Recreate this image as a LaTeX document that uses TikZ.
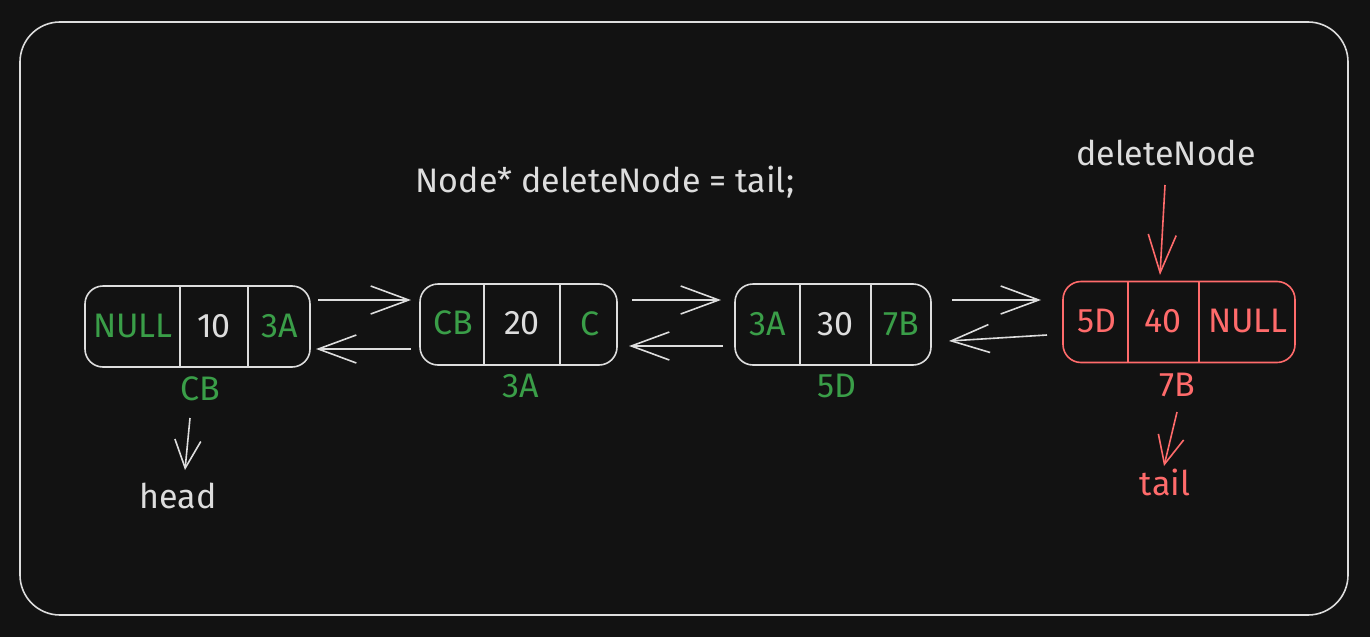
\documentclass[tikz,border=0pt]{standalone}
\usepackage{fontspec}
\setmainfont{Fira Sans}
\usetikzlibrary{arrows.meta,calc}
\definecolor{bg}{HTML}{121212}
\definecolor{ink}{HTML}{DDDDDD}
\definecolor{grn}{HTML}{3A9E48}
\definecolor{rd}{HTML}{FF6B6B}
\tikzset{
  cellbox/.style={draw=ink,line width=0.8pt,rounded corners=9pt,minimum height=40.5pt,inner sep=0pt},
  redbox/.style={cellbox,draw=rd},
  txt/.style={font=\fontsize{17}{20}\selectfont,inner sep=1pt},
  gtxt/.style={txt,text=grn},
  wtxt/.style={txt,text=ink},
  rtxt/.style={txt,text=rd},
  arr/.style={draw=ink,line width=0.8pt,-{Straight Barb[length=19pt,width=14pt,line width=0.8pt]}},
  parr/.style={draw=ink,line width=0.8pt,-{Straight Barb[length=14pt,width=13pt,line width=0.8pt]}},
  rarr/.style={draw=rd,line width=0.8pt,-{Straight Barb[length=19pt,width=14pt,line width=0.8pt]}},
  srarr/.style={parr,draw=rd},
  divider/.style={draw=ink,line width=0.7pt},
  rdivider/.style={draw=rd,line width=0.7pt},
}
\begin{document}
\begin{tikzpicture}[x=0.5pt,y=-0.5pt]
\fill[bg] (0,0) rectangle (1370,637);
\useasboundingbox (0,0) rectangle (1370,637);
\draw[ink,line width=0.8pt,rounded corners=20pt] (20,22) rectangle (1348,615);

% boxes
\node[cellbox,minimum width=112.5pt] (n1) at (197.5,326.5) {};
\node[cellbox,minimum width=98.5pt] (n2) at (518.5,324.5) {};
\node[cellbox,minimum width=98pt] (n3) at (833,324.5) {};
\node[redbox,minimum width=116pt] (n4) at (1179,322) {};

% dividers
\draw[divider] (180,0 |- n1.north) -- (180,0 |- n1.south);
\draw[divider] (248,0 |- n1.north) -- (248,0 |- n1.south);
\draw[divider] (484,0 |- n2.north) -- (484,0 |- n2.south);
\draw[divider] (560,0 |- n2.north) -- (560,0 |- n2.south);
\draw[divider] (800,0 |- n3.north) -- (800,0 |- n3.south);
\draw[divider] (871,0 |- n3.north) -- (871,0 |- n3.south);
\draw[rdivider] (1128,0 |- n4.north) -- (1128,0 |- n4.south);
\draw[rdivider] (1199,0 |- n4.north) -- (1199,0 |- n4.south);

% cell texts
\node[gtxt] (t11) at (133,326) {NULL};
\node[wtxt] (t12) at (214,326) {10};
\node[gtxt] (t13) at (280,326) {3A};
\node[gtxt] (t21) at (453,323) {CB};
\node[wtxt] (t22) at (522,323) {20};
\node[gtxt] (t23) at (590,324) {C};
\node[gtxt] (t31) at (768,324) {3A};
\node[wtxt] (t32) at (835,324) {30};
\node[gtxt] (t33) at (901,324) {7B};
\node[rtxt] (t41) at (1097,321) {5D};
\node[rtxt] (t42) at (1163,321) {40};
\node[rtxt] (t43) at (1248,321) {NULL};

% address labels
\node[gtxt] (l1) at (200,389) {CB};
\node[gtxt] (l2) at (521,386) {3A};
\node[gtxt] (l3) at (837,386) {5D};
\node[rtxt] (l4) at (1177,385) {7B};

% pointer labels
\node[wtxt] (code) at (605,182) {Node* deleteNode = tail;};
\node[wtxt] (dn) at (1166,153) {deleteNode};
\node[wtxt] (head) at (178,496) {head};
\node[rtxt] (tail) at (1165,482) {tail};

% link coordinates
\coordinate (f1s) at (318,300); \coordinate (f1e) at (411,300);
\coordinate (b1s) at (411,349); \coordinate (b1e) at (316,349);
\coordinate (f2s) at (632,300); \coordinate (f2e) at (721,300);
\coordinate (b2s) at (723,346); \coordinate (b2e) at (629,346);
\coordinate (f3s) at (952,300); \coordinate (f3e) at (1041,300);
\coordinate (b3s) at (1047,335); \coordinate (b3e) at (949,341);

\draw[arr] (f1s) -- (f1e);
\draw[arr] (b1s) -- (b1e);
\draw[arr] (f2s) -- (f2e);
\draw[arr] (b2s) -- (b2e);
\draw[arr] (f3s) -- (f3e);
\draw[arr] (b3s) -- (b3e);

% pointer arrows
\draw[rarr] (1165,185) -- (1160,275);
\draw[srarr] (1177,412) -- (1164,466);
\draw[parr] (190,418) -- (185,470);
\end{tikzpicture}
\end{document}
